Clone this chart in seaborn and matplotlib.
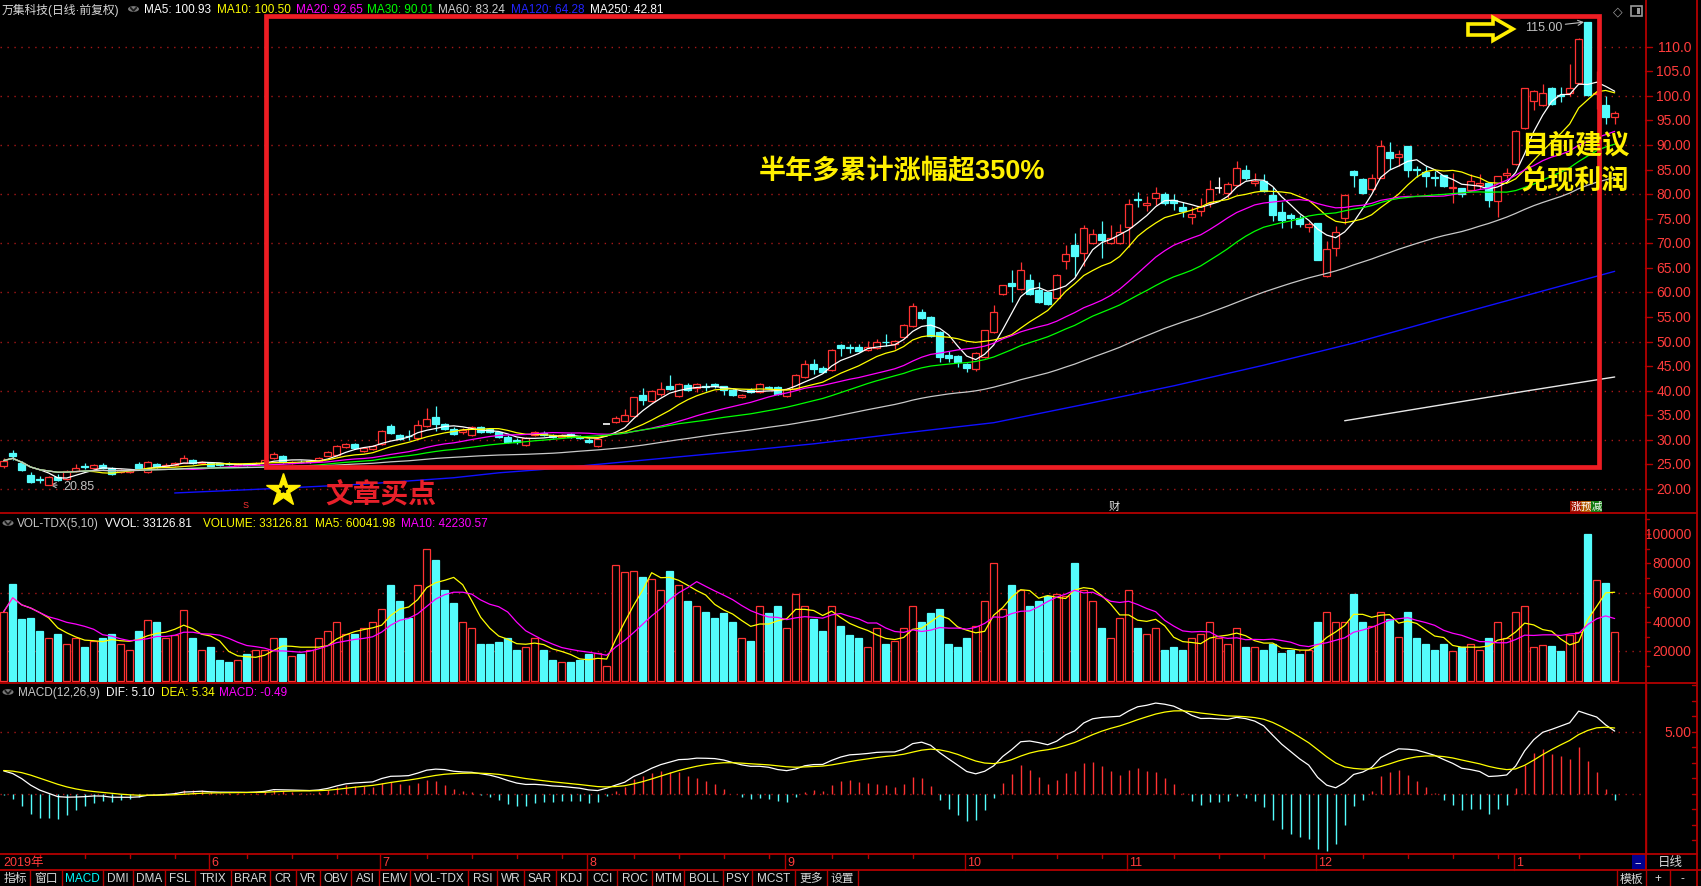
import numpy as np
import pandas as pd
import matplotlib
matplotlib.use("Agg")
import matplotlib.pyplot as plt
import matplotlib.transforms as mtrans
from matplotlib.lines import Line2D
from matplotlib.patches import Rectangle, Polygon, Circle
import seaborn as sns

# ------------------------------------------------------------------ data
title_text = "万集科技(日线·前复权)"
price_header = [("MA5: 100.93", "#ffffff"), ("MA10: 100.50", "#ffff00"),
                ("MA20: 92.65", "#ff00ff"), ("MA30: 90.01", "#00ff00"),
                ("MA60: 83.24", "#d0d0d0"), ("MA120: 64.28", "#2424ff"),
                ("MA250: 42.81", "#ffffff")]
vol_header = [("VOL-TDX(5,10)", "#c8c8c8"), ("VVOL: 33126.81", "#ffffff"),
              ("VOLUME: 33126.81", "#ffff00"), ("MA5: 60041.98", "#ffff00"),
              ("MA10: 42230.57", "#ff00ff")]
macd_header = [("MACD(12,26,9)", "#c8c8c8"), ("DIF: 5.10", "#ffffff"),
               ("DEA: 5.34", "#ffff00"), ("MACD: -0.49", "#ff00ff")]

month_labels = ["2019年", "6", "7", "8", "9", "10", "11", "12", "1"]
month_first_bar = [0, 23, 42, 65, 87, 107, 125, 146, 168]

tab_labels = ["指标", "窗口", "MACD", "DMI", "DMA", "FSL", "TRIX", "BRAR", "CR", "VR",
              "OBV", "ASI", "EMV", "VOL-TDX", "RSI", "WR", "SAR", "KDJ", "CCI", "ROC",
              "MTM", "BOLL", "PSY", "MCST", "更多", "设置"]

opens = [24.6, 27.3, 25.4, 22.9, 22.0, 20.9, 22.5, 22.0, 23.6, 24.7,
         24.2, 24.8, 24.2, 23.4, 23.5, 25.1, 23.4, 25.1, 24.6, 24.8,
         25.3, 26.0, 25.2, 25.4, 25.2, 25.1, 24.9, 25.0, 24.9, 25.4,
         26.3, 26.8, 25.2, 25.6, 25.5, 25.7, 26.8, 26.9, 28.5, 29.1,
         27.8, 28.1, 29.1, 32.9, 30.9, 30.8, 30.4, 32.9, 34.6, 33.2,
         32.3, 31.6, 30.9, 32.6, 32.2, 31.6, 30.6, 30.0, 28.9, 30.9,
         31.5, 31.0, 30.6, 31.2, 30.5, 30.0, 28.8, 33.2, 33.7, 33.9,
         34.9, 39.1, 38.0, 39.4, 40.9, 38.9, 41.2, 40.6, 40.9, 41.3,
         40.9, 40.2, 38.7, 40.15, 39.8, 40.7, 40.75, 39.0, 40.35, 42.7,
         45.4, 44.7, 44.3, 49.3, 48.9, 49.0, 48.2, 48.8, 49.9, 49.45,
         51.0, 53.2, 56.1, 55.1, 51.9, 47.3, 47.0, 45.5, 44.4, 46.9,
         51.9, 59.6, 61.9, 60.8, 62.5, 60.6, 60.0, 58.8, 66.3, 69.65,
         67.95, 70.0, 71.8, 70.0, 70.0, 73.25, 79.1, 77.7, 79.15, 80.0,
         78.8, 77.3, 75.3, 76.6, 78.3, 81.2, 80.2, 81.9, 84.9, 82.2,
         82.7, 79.8, 76.3, 75.8, 75.1, 73.25, 74.1, 63.3, 69.0, 75.1,
         84.8, 83.1, 81.0, 83.3, 88.6, 87.5, 89.7, 85.1, 84.6, 83.4,
         83.9, 81.25, 81.25, 80.9, 81.9, 82.2, 78.7, 84.0, 86.1, 93.4,
         99.0, 98.2, 101.6, 100.1, 100.5, 102.6, 115.0, 100.4, 98.2, 95.6]
closes = [25.8, 26.7, 23.9, 21.5, 21.8, 22.4, 21.8, 23.7, 24.3, 24.5,
          24.9, 24.2, 23.1, 23.9, 23.9, 24.3, 25.6, 24.5, 24.9, 25.2,
          26.3, 25.3, 25.6, 24.6, 24.8, 25.05, 25.0, 24.9, 25.4, 25.9,
          27.1, 25.6, 25.6, 25.5, 25.5, 26.4, 27.5, 28.8, 29.1, 28.4,
          28.4, 28.7, 31.8, 31.5, 30.2, 30.7, 33.1, 34.3, 33.3, 32.3,
          31.3, 32.1, 32.6, 31.7, 31.6, 30.6, 29.6, 29.5, 30.3, 31.6,
          31.0, 30.6, 31.0, 30.6, 30.4, 29.5, 30.2, 33.2, 34.45, 35.1,
          38.7, 38.2, 39.95, 40.35, 40.35, 41.3, 40.1, 41.3, 40.7, 40.9,
          40.1, 39.1, 39.1, 39.8, 41.3, 40.6, 39.4, 40.35, 43.2, 45.4,
          44.4, 43.9, 48.3, 48.8, 48.8, 48.1, 48.9, 49.85, 49.85, 50.1,
          53.4, 57.2, 54.9, 51.2, 46.8, 46.7, 45.9, 44.7, 47.6, 52.3,
          56.0, 61.5, 61.4, 64.5, 59.6, 58.0, 57.7, 63.55, 67.75, 67.35,
          73.05, 71.8, 70.7, 71.1, 72.2, 77.9, 78.9, 78.1, 80.2, 78.3,
          78.3, 76.6, 75.9, 77.5, 81.05, 81.2, 82.1, 85.3, 83.35, 82.7,
          80.7, 75.8, 74.8, 75.1, 73.9, 73.9, 66.7, 68.8, 72.4, 79.8,
          84.0, 80.2, 83.3, 89.7, 87.3, 88.1, 85.0, 84.9, 83.6, 83.3,
          81.7, 81.5, 80.0, 82.7, 82.2, 78.9, 83.6, 84.4, 92.9, 101.5,
          101.05, 100.5, 98.3, 100.0, 101.6, 111.5, 100.2, 100.6, 95.8, 96.6]
highs = [26.3, 28.0, 25.8, 23.4, 22.6, 22.6, 23.0, 23.8, 25.0, 25.4,
         25.1, 25.3, 24.4, 24.1, 24.0, 25.6, 25.8, 25.3, 25.2, 25.5,
         27.0, 26.2, 25.8, 25.6, 25.4, 25.5, 25.2, 25.3, 25.6, 26.2,
         27.6, 27.0, 25.8, 26.0, 25.9, 26.6, 27.7, 29.0, 29.4, 29.3,
         28.6, 28.9, 32.0, 33.3, 31.3, 32.0, 34.0, 36.4, 36.9, 33.5,
         32.6, 32.4, 32.9, 32.9, 32.4, 31.9, 30.9, 30.4, 30.5, 31.9,
         31.8, 31.3, 31.3, 31.4, 30.9, 30.3, 30.4, 33.2, 34.8, 36.3,
         38.7, 40.6, 40.1, 41.7, 43.2, 41.5, 41.5, 41.5, 41.6, 41.5,
         41.0, 40.4, 39.3, 40.6, 41.5, 41.0, 40.9, 40.5, 43.4, 46.3,
         46.4, 45.0, 48.5, 49.5, 49.5, 49.5, 50.2, 50.6, 51.5, 50.4,
         53.6, 57.85, 56.6, 55.3, 52.1, 48.1, 47.2, 45.7, 47.8, 52.4,
         57.4, 61.6, 64.6, 66.1, 63.7, 62.2, 60.1, 63.7, 69.7, 72.1,
         73.7, 72.9, 74.5, 73.8, 73.9, 79.1, 80.4, 79.7, 81.4, 80.5,
         80.0, 78.5, 77.3, 79.3, 82.9, 83.4, 82.5, 86.7, 85.9, 84.4,
         84.1, 81.4, 78.5, 76.1, 75.8, 74.3, 74.1, 70.5, 73.5, 80.0,
         84.9, 83.3, 84.2, 91.0, 90.6, 89.0, 89.8, 85.8, 85.8, 84.8,
         84.0, 84.4, 81.3, 84.2, 84.2, 82.3, 83.7, 85.3, 93.0, 101.6,
         101.2, 102.4, 101.9, 101.9, 106.5, 111.8, 115.0, 105.1, 100.0, 96.9]
lows = [24.3, 26.0, 23.7, 21.3, 21.3, 20.85, 21.6, 21.9, 23.5, 24.0,
        24.0, 24.0, 22.9, 23.2, 23.3, 24.1, 23.3, 24.3, 24.5, 24.6,
        25.2, 25.1, 25.0, 24.4, 24.6, 24.8, 24.7, 24.7, 24.8, 25.3,
        26.1, 25.4, 25.0, 25.2, 25.2, 25.6, 26.7, 26.8, 28.3, 28.2,
        27.6, 27.9, 28.9, 31.2, 29.9, 30.0, 30.3, 32.7, 31.8, 32.0,
        31.0, 31.3, 30.7, 31.5, 31.4, 30.4, 29.4, 29.2, 28.7, 30.7,
        30.8, 30.4, 30.4, 30.4, 30.1, 29.3, 28.6, 33.2, 33.4, 33.8,
        34.8, 37.1, 37.8, 38.9, 40.2, 38.7, 39.9, 39.7, 40.0, 40.6,
        39.1, 38.9, 38.5, 39.5, 39.6, 40.3, 39.2, 38.8, 40.2, 42.5,
        43.4, 43.7, 44.1, 47.1, 47.7, 47.8, 48.0, 48.4, 49.2, 48.4,
        50.8, 53.0, 54.5, 51.0, 45.9, 45.9, 44.8, 43.75, 44.1, 46.7,
        51.7, 59.4, 58.1, 60.6, 59.4, 57.8, 57.5, 58.6, 64.8, 63.4,
        65.3, 69.8, 67.1, 69.8, 69.8, 69.2, 77.3, 76.6, 77.7, 77.7,
        76.8, 75.3, 73.9, 75.6, 77.3, 80.2, 79.2, 81.7, 82.9, 81.7,
        80.5, 74.6, 73.2, 73.2, 73.4, 72.4, 66.6, 63.2, 67.5, 73.9,
        81.4, 80.0, 80.6, 83.2, 85.1, 85.8, 83.4, 83.4, 81.4, 81.7,
        81.5, 78.1, 79.5, 80.8, 81.0, 77.3, 75.3, 83.3, 86.0, 93.3,
        97.1, 98.0, 98.1, 98.8, 99.9, 102.4, 100.0, 97.3, 94.3, 94.3]
volumes = [47000, 66000, 42000, 43000, 34000, 29000, 32000, 25000, 29000, 23000,
           27000, 29000, 32000, 25000, 21000, 34000, 41000, 40000, 29000, 31000,
           48000, 29000, 21000, 23000, 14000, 12500, 14000, 18000, 21000, 21000,
           29000, 29000, 17000, 18000, 21000, 29000, 34000, 40000, 32000, 32000,
           36000, 40000, 49000, 65000, 54000, 43000, 65000, 90000, 82000, 62000,
           53000, 40000, 36000, 25000, 25000, 26000, 29000, 21000, 23000, 29000,
           21000, 14000, 12500, 12500, 14000, 18000, 19000, 10000, 79000, 74000,
           75000, 71000, 69000, 62000, 75000, 65000, 54000, 51000, 47000, 43000,
           46000, 40000, 29000, 27000, 51000, 46000, 51000, 36000, 59000, 51000,
           42000, 34000, 51000, 37000, 31000, 29000, 23000, 36000, 25000, 27000,
           36000, 51000, 40000, 46000, 49000, 25000, 23000, 29000, 37000, 54000,
           80000, 49000, 65000, 62000, 51000, 54000, 58000, 59000, 58000, 80000,
           62000, 54000, 36000, 29000, 43000, 62000, 36000, 32000, 36000, 21000,
           23000, 21000, 29000, 32000, 40000, 29000, 25000, 36000, 23000, 23000,
           21000, 25000, 19000, 21000, 18000, 21000, 40000, 47000, 40000, 40000,
           59000, 40000, 37000, 47000, 42000, 30000, 47000, 29000, 25000, 21000,
           25000, 20000, 23000, 25000, 21000, 29000, 40000, 29000, 47000, 51000,
           23000, 24000, 23500, 20400, 31100, 33000, 100000, 68600, 66600, 33126.81]

# long moving averages (they need history before the window)
ma120_bars = [19, 30, 40, 50, 55, 60, 70, 80, 90, 100, 110, 120, 130, 140, 150, 160, 170, 179]
ma120_values = [19.2, 20.1, 21.0, 22.3, 23.3, 24.0, 25.7, 27.4, 29.2, 31.4,
                33.5, 37.2, 41.0, 45.2, 49.7, 54.8, 59.8, 64.3]
ma250_bars = [149, 159, 169, 179]
ma250_values = [33.9, 36.9, 39.9, 42.8]

# MACD state at the first visible bar
macd_ema12_start = 28.0
macd_ema26_start = 25.8
macd_dea_start = 1.9

price_ticks = list(range(20, 115, 5))
volume_ticks = [20000, 40000, 60000, 80000, 100000]
volume_minor_ticks = [10000, 30000, 50000, 70000, 90000, 110000]
macd_label_ticks = [5.0]
high_mark = 115.00
low_mark = 20.85

# ------------------------------------------------------------------ derived
N = len(closes)
df = pd.DataFrame({"open": opens, "close": closes, "high": highs, "low": lows, "vol": volumes})
df["x"] = np.arange(N)
for w in (5, 10, 20, 30, 60):
    df[f"ma{w}"] = df["close"].rolling(w, min_periods=1).mean()
df["vma5"] = df["vol"].rolling(5, min_periods=1).mean()
df["vma10"] = df["vol"].rolling(10, min_periods=1).mean()
cl = df["close"].astype(float)
e12 = pd.concat([pd.Series([macd_ema12_start]), cl], ignore_index=True).ewm(span=12, adjust=False).mean().iloc[1:].to_numpy()
e26 = pd.concat([pd.Series([macd_ema26_start]), cl], ignore_index=True).ewm(span=26, adjust=False).mean().iloc[1:].to_numpy()
dif = e12 - e26
dea = pd.concat([pd.Series([macd_dea_start]), pd.Series(dif)], ignore_index=True).ewm(span=9, adjust=False).mean().iloc[1:].to_numpy()
macd_bar = 2 * (dif - dea)

# ------------------------------------------------------------------ style
sns.set_theme(style="dark")
plt.rcParams["font.family"] = ["Liberation Sans", "Noto Sans CJK SC", "DejaVu Sans"]
plt.rcParams["figure.facecolor"] = "black"
plt.rcParams["axes.facecolor"] = "black"
plt.rcParams["savefig.facecolor"] = "black"

RED = "#ff3232"
CYAN = "#54fcfc"
FRAME = "#b40000"
GRID = "#a81818"
LBL = "#ff3c3c"
NARROW = ["Liberation Sans Narrow", "Liberation Sans", "DejaVu Sans"]

W, H = 1701, 887
AXW = 1645.0
fig = plt.figure(figsize=(W / 100, H / 100), dpi=100)


def FX(x):
    return x / W


def FY(y):
    return 1 - y / H


def fline(x0, y0, x1, y1, color=FRAME, lw=1.0, ls="-"):
    fig.add_artist(Line2D([FX(x0), FX(x1)], [FY(y0), FY(y1)], color=color, lw=lw, ls=ls,
                          transform=fig.transFigure))


def ftext(x, y, s, color, size=8.5, ha="left", **kw):
    fig.text(FX(x), FY(y), s, color=color, fontsize=size, ha=ha, va="center", **kw)


def make_axes(top, bottom, ylim):
    ax = fig.add_axes([0, FY(bottom), AXW / W, (bottom - top) / H])
    ax.set_axis_off()
    ax.set_xlim(-0.411, 182.37)
    ax.set_ylim(*ylim)
    return ax


ax_p = make_axes(14, 513, (15.33, 116.86))
ax_v = make_axes(515, 684, (-1637, 113640))
ax_m = make_axes(684, 854, (-4.76, 8.95))

x = df["x"].to_numpy()
o = df["open"].to_numpy(); c = df["close"].to_numpy()
h = df["high"].to_numpy(); l = df["low"].to_numpy()
up = c > o
dn = c < o
fl = c == o
BW = 0.72

# ---------------- price panel
for v in range(20, 111, 10):
    ax_p.axhline(v, color=GRID, lw=1.0, ls=(0, (1, 4)), zorder=1)

ax_p.vlines(x[up], l[up], h[up], color=RED, lw=0.9, zorder=3)
ax_p.vlines(x[dn], l[dn], h[dn], color=CYAN, lw=0.9, zorder=3)
ax_p.vlines(x[fl], l[fl], h[fl], color="white", lw=0.9, zorder=3)
ax_p.bar(x[up], (c - o)[up], bottom=o[up], width=BW, facecolor="black", edgecolor=RED, lw=0.9, zorder=4)
ax_p.bar(x[dn], (o - c)[dn], bottom=c[dn], width=BW, facecolor=CYAN, edgecolor=CYAN, lw=0.9, zorder=4)
ax_p.hlines(c[fl], x[fl] - BW / 2, x[fl] + BW / 2, color="white", lw=1.2, zorder=4)

ma_colors = {"ma5": "#ffffff", "ma10": "#ffff00", "ma20": "#ff00ff", "ma30": "#00ff00", "ma60": "#c8c8c8"}
for key, col in ma_colors.items():
    sns.lineplot(data=df, x="x", y=key, ax=ax_p, color=col, lw=0.9, legend=False, zorder=5)
sns.lineplot(x=ma120_bars, y=ma120_values, ax=ax_p, color="#1010ff", lw=1.0, legend=False, zorder=5)
sns.lineplot(x=ma250_bars, y=ma250_values, ax=ax_p, color="#e8e8e8", lw=1.0, legend=False, zorder=5)
ax_p.set_xlim(-0.411, 182.37)
ax_p.set_ylim(15.33, 116.86)
ax_p.set_axis_off()

trp = mtrans.blended_transform_factory(ax_p.transAxes, ax_p.transData)
for v in price_ticks:
    ax_p.add_line(Line2D([1.0, 1652 / AXW], [v, v], transform=trp, color=FRAME, lw=1, clip_on=False))
    s = f"{v:.1f}" if v >= 100 else f"{v:.2f}"
    ax_p.text(1691 / AXW, v, s, transform=trp, ha="right", va="center", color=LBL,
              fontsize=10, family=NARROW, clip_on=False)

# high / low markers
i_hi = int(np.argmax(h))
i_lo = int(np.argmin(l))
ax_p.annotate(f"{high_mark:.2f}", xy=(i_hi - 0.4, high_mark), xytext=(169.0, 114.07),
              color="#c0c0c0", fontsize=9, va="center", ha="left",
              arrowprops=dict(arrowstyle="->", color="#c0c0c0", lw=0.8, shrinkA=38, shrinkB=0))
ax_p.annotate(f"{low_mark:.2f}", xy=(i_lo + 0.15, low_mark), xytext=(6.6, 20.6),
              color="#c0c0c0", fontsize=9, va="center", ha="left",
              arrowprops=dict(arrowstyle="->", color="#c0c0c0", lw=0.8, shrinkA=2, shrinkB=0))

# red frame and annotations
ax_p.add_patch(Rectangle((29.18, 24.42), 177.28 - 29.18, 116.35 - 24.42, fill=False,
                         edgecolor="#ee1d23", lw=3.4, zorder=10, clip_on=False))
YEL = "#fff000"
ftext(759, 172.5, "半年多累计涨幅超350%", YEL, size=19.5, weight="bold")
ftext(1521, 146.5, "目前建议", YEL, size=19.5, weight="bold")
ftext(1521, 181.5, "兑现利润", YEL, size=19.5, weight="bold")
ftext(325, 496.5, "文章买点", "#e8202a", size=20, weight="bold")
fig.add_artist(Line2D([FX(283)], [FY(491)], marker="*", ms=25, color="#ffee00", mec="#ffee00",
                      transform=fig.transFigure))
fig.add_artist(Line2D([FX(283)], [FY(490)], marker="*", ms=6, color="black", mec="black",
                      transform=fig.transFigure))
arrow_px = [(1468, 25), (1493, 25), (1493, 18.5), (1513, 30), (1493, 41.5), (1493, 36), (1468, 36)]
fig.add_artist(Polygon([(FX(a), FY(b)) for a, b in arrow_px], closed=True, fc="black", ec="#ffee00",
                       lw=2.6, transform=fig.transFigure))

# event marks under the price panel
ftext(245.5, 506, "S", RED, size=6.5, ha="center")
ftext(1108.7, 506.5, "财", "#e0e0e0", size=8)
for k, (ch, bg) in enumerate([("涨", "#a01000"), ("预", "#b05a00"), ("减", "#107a10")]):
    x0 = 1570 + k * 10.7
    fig.add_artist(Rectangle((FX(x0), FY(513)), 10.7 / W, 11.5 / H, fc=bg, ec="none",
                             transform=fig.transFigure))
    ftext(x0 + 5.35, 507.3, ch, "white", size=7.5, ha="center")

# ---------------- volume panel
for v in (20000, 60000):
    ax_v.axhline(v, color=GRID, lw=1.0, ls=(0, (1, 4)), zorder=1)
vol = df["vol"].to_numpy()
vup = c >= o
ax_v.bar(x[vup], vol[vup], width=BW, facecolor="black", edgecolor=RED, lw=0.9, zorder=3)
ax_v.bar(x[~vup], vol[~vup], width=BW, facecolor=CYAN, edgecolor=CYAN, lw=0.9, zorder=3)
sns.lineplot(data=df, x="x", y="vma5", ax=ax_v, color="#ffff00", lw=0.9, legend=False, zorder=4)
sns.lineplot(data=df, x="x", y="vma10", ax=ax_v, color="#ff00ff", lw=0.9, legend=False, zorder=4)
ax_v.set_xlim(-0.411, 182.37)
ax_v.set_ylim(-1637, 113640)
ax_v.set_axis_off()
trv = mtrans.blended_transform_factory(ax_v.transAxes, ax_v.transData)
for v in volume_ticks:
    ax_v.add_line(Line2D([1.0, 1650 / AXW], [v, v], transform=trv, color=FRAME, lw=1, clip_on=False))
    ax_v.text(1691 / AXW, v, f"{v}", transform=trv, ha="right", va="center", color=LBL,
              fontsize=10, family=NARROW, clip_on=False)
for v in volume_minor_ticks:
    ax_v.add_line(Line2D([1.0, 1649 / AXW], [v, v], transform=trv, color=FRAME, lw=1, clip_on=False))

# ---------------- MACD panel
for v in (0.0, 5.0):
    ax_m.axhline(v, color=GRID, lw=1.0, ls=(0, (1, 4)), zorder=1)
pos = macd_bar >= 0
ax_m.vlines(x[pos], 0, macd_bar[pos], color=RED, lw=1.0, zorder=3)
ax_m.vlines(x[~pos], 0, macd_bar[~pos], color=CYAN, lw=1.0, zorder=3)
sns.lineplot(x=x, y=dif, ax=ax_m, color="#ffffff", lw=0.9, legend=False, zorder=4)
sns.lineplot(x=x, y=dea, ax=ax_m, color="#ffff00", lw=0.9, legend=False, zorder=4)
ax_m.set_xlim(-0.411, 182.37)
ax_m.set_ylim(-4.76, 8.95)
ax_m.set_axis_off()
trm = mtrans.blended_transform_factory(ax_m.transAxes, ax_m.transData)
for v in macd_label_ticks:
    ax_m.text(1691 / AXW, v, f"{v:.2f}", transform=trm, ha="right", va="center", color=LBL,
              fontsize=10, family=NARROW, clip_on=False)
for v in np.arange(-3.75, 8.8, 1.25):
    ax_m.add_line(Line2D([1692 / AXW, 1696 / AXW], [v, v], transform=trm, color=FRAME, lw=1, clip_on=False))

# ---------------- headers
ftext(2, 10, title_text, "#d8d8d8", size=8.5)


def icon(xc, yc):
    fig.add_artist(Circle((FX(xc), FY(yc)), 5.5 / W, fc="#7a7a7a", ec="none", transform=fig.transFigure))
    fig.add_artist(Line2D([FX(xc - 2.8), FX(xc), FX(xc + 2.8)], [FY(yc - 1.2), FY(yc + 1.8), FY(yc - 1.2)],
                          color="#1a1a1a", lw=1.3, transform=fig.transFigure))


icon(133.5, 10)
for (s, col), xp in zip(price_header, [144, 216.5, 295.5, 367, 437.5, 511, 590]):
    ftext(xp, 10, s, col)
icon(8, 524)
for (s, col), xp in zip(vol_header, [17, 105, 203, 315, 401]):
    ftext(xp, 524, s, col)
icon(8, 693)
for (s, col), xp in zip(macd_header, [18, 106, 161, 219]):
    ftext(xp, 693, s, col)

# top-right small icons
ftext(1617.5, 12, "◇", "#9a9a9a", size=9, ha="center", family=["DejaVu Sans"])
fig.add_artist(Rectangle((FX(1630.5), FY(17)), 11 / W, 10.5 / H, fc="none", ec="#9a9a9a", lw=1.2,
                         transform=fig.transFigure))
fig.add_artist(Rectangle((FX(1636.5), FY(15)), 3.5 / W, 6.5 / H, fc="#9a9a9a", ec="none",
                         transform=fig.transFigure))

# ---------------- frame lines
fline(0, 514, 1697, 514, lw=1.3)
fline(0, 684, 1697, 684, lw=1.3)
fline(0, 854.5, 1697, 854.5, lw=1.3)
fline(0, 871, 1701, 871, lw=1.3)
fline(1645.5, 0, 1645.5, 871, lw=1.3)
fline(1697, 0, 1697, 887, lw=1.3)
fline(1646, 685, 1646, 854)

# ---------------- date strip
week_start_bars = [4, 9, 14, 19, 27, 32, 37, 47, 52, 57, 62, 70, 75, 80, 85, 92, 96, 101,
                   112, 117, 122, 130, 135, 140, 151, 156, 161, 166, 175]
for b in week_start_bars:
    px = 3.7 + 9 * b
    fline(px, 855, px, 858.5, lw=1.0)
for lab, b in zip(month_labels, month_first_bar):
    px = 3.7 + 9 * b
    if b > 0:
        fline(px - 1.5, 855, px - 1.5, 871, lw=1.0)
    ftext(px + (0 if b == 0 else 0.5), 863.5, lab, LBL, size=9)
fig.add_artist(Rectangle((FX(1631.5), FY(871)), 13.5 / W, 15.5 / H, fc="#000090", ec="none",
                         transform=fig.transFigure))
ftext(1638.2, 863, "--", "white", size=8, ha="center")
ftext(1670, 863, "日线", "#d8d8d8", size=9, ha="center")

# ---------------- tab bar
tab_edges = [0, 30, 62, 103, 133, 165, 195, 231, 270, 296, 320, 351, 379, 410, 468, 497, 524,
             556, 587, 617, 652, 684, 723, 752, 795, 827, 858]
for k, lab in enumerate(tab_labels):
    a, b = tab_edges[k], tab_edges[k + 1]
    ftext((a + b) / 2, 879.5, lab, "#00ffff" if lab == "MACD" else "#d8d8d8", size=8.5, ha="center")
    fline(b, 871, b, 887, lw=1.0)
for lab, a, b in [("模板", 1617, 1646), ("+", 1646, 1670), ("-", 1670, 1695)]:
    ftext((a + b) / 2, 879.5, lab, "#d8d8d8", size=8.5, ha="center")
    fline(a, 871, a, 887, lw=1.0)

fig.savefig("out.png", dpi=100, facecolor="black")
